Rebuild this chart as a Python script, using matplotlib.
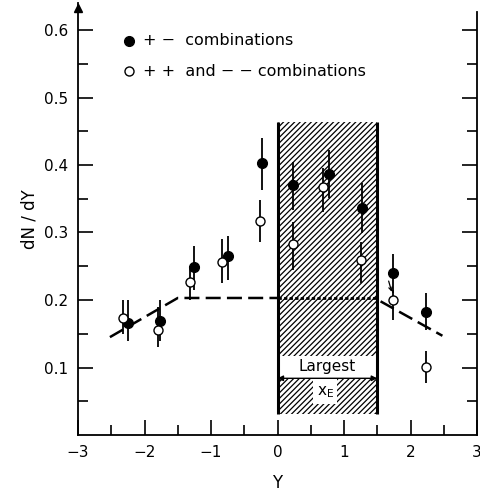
import numpy as np
import matplotlib
matplotlib.use("Agg")
import matplotlib.pyplot as plt
from matplotlib.patches import Rectangle

plt.rcParams['font.family'] = ['DejaVu Sans']
plt.rcParams['hatch.linewidth'] = 0.9

# filled points: +- combinations
y_full = [-2.25, -1.76, -1.25, -0.75, -0.24, 0.24, 0.77, 1.27, 1.74, 2.24]
n_full = [0.166, 0.169, 0.249, 0.265, 0.403, 0.370, 0.386, 0.336, 0.240, 0.182]
lo_full = [0.140, 0.140, 0.215, 0.230, 0.363, 0.333, 0.351, 0.299, 0.210, 0.155]
hi_full = [0.200, 0.200, 0.280, 0.295, 0.440, 0.404, 0.422, 0.373, 0.268, 0.210]

# open points: ++ and -- combinations
y_open = [-2.32, -1.80, -1.31, -0.83, -0.26, 0.23, 0.69, 1.25, 1.73, 2.24]
n_open = [0.173, 0.155, 0.227, 0.256, 0.317, 0.283, 0.368, 0.259, 0.200, 0.101]
lo_open = [0.150, 0.130, 0.200, 0.225, 0.286, 0.244, 0.330, 0.225, 0.170, 0.077]
hi_open = [0.200, 0.190, 0.250, 0.290, 0.348, 0.316, 0.395, 0.286, 0.215, 0.124]

# dashed curve
curve_left_x = [-2.52, -1.5, 0.0]
curve_left_y = [0.145, 0.203, 0.203]
curve_mid_x = [0.0, 1.5]
curve_mid_y = [0.203, 0.203]
curve_right_x = [1.55, 2.48]
curve_right_y = [0.198, 0.147]

# largest x_E band
band_x = [0.0, 1.5]
band_y = [0.031, 0.464]

fig = plt.figure(figsize=(4.81, 4.93), dpi=100)
ax = fig.add_axes([78/481, 58/493, 399/481, 432/493])
ax.set_xlim(-3, 3)
ax.set_ylim(0, 0.64)

# hatched region
ax.add_patch(Rectangle((band_x[0], band_y[0]), band_x[1]-band_x[0], band_y[1]-band_y[0],
                       facecolor='white', edgecolor='black', hatch='//////', lw=0, zorder=1))
ax.add_patch(Rectangle((0, 0.084), 1.5, 0.033, facecolor='white', lw=0, zorder=1.5))
ax.add_patch(Rectangle((0.54, 0.046), 0.35, 0.038, facecolor='white', lw=0, zorder=1.5))
for bx in band_x:
    ax.plot([bx, bx], band_y, color='black', lw=2.2, zorder=2, solid_capstyle='butt')
ax.annotate('', xy=(0, 0.084), xytext=(1.5, 0.084),
            arrowprops=dict(arrowstyle='<|-|>', color='black', lw=1.0,
                            mutation_scale=8, shrinkA=0, shrinkB=0), zorder=3)
ax.text(0.75, 0.101, 'Largest', ha='center', va='center', fontsize=11, zorder=3)
ax.text(0.72, 0.064, r'$\mathsf{x_E}$', ha='center', va='center', fontsize=11, zorder=3)

# curve
ax.plot(curve_left_x, curve_left_y, color='black', lw=1.8, dashes=(6, 2.5), zorder=2)
ax.plot(curve_mid_x, curve_mid_y, color='black', lw=2.0, dashes=(1.2, 0.8), zorder=2)
ax.plot(curve_right_x, curve_right_y, color='black', lw=1.8, dashes=(6, 2.5), zorder=2)

# data
yf = np.array(n_full)
ax.errorbar(y_full, yf, yerr=[yf - np.array(lo_full), np.array(hi_full) - yf],
            fmt='o', color='black', ms=7, elinewidth=1.3, capsize=0, zorder=4)
yo = np.array(n_open)
ax.errorbar(y_open, yo, yerr=[yo - np.array(lo_open), np.array(hi_open) - yo],
            fmt='o', color='black', mfc='white', mec='black', mew=1.0, ms=6.5,
            elinewidth=1.3, capsize=0, zorder=4)
ax.annotate('', xy=(1.73, 0.208), xytext=(1.66, 0.232),
            arrowprops=dict(arrowstyle='->', color='black', lw=0.9, mutation_scale=6))

# legend
ax.plot([-2.23], [0.584], 'o', color='black', ms=7)
ax.plot([-2.23], [0.539], 'o', color='black', mfc='white', ms=6.5, mew=1.0)
ax.text(-2.03, 0.584, '+ \u2212  combinations', va='center', ha='left', fontsize=11.5)
ax.text(-2.03, 0.539, '+ +  and \u2212 \u2212 combinations', va='center', ha='left', fontsize=11.5)

# axes styling
ax.spines['top'].set_visible(False)
ax.spines['right'].set_bounds(0, 0.627)
for s in ['left', 'bottom', 'right']:
    ax.spines[s].set_linewidth(1.3)
ax.plot([-3], [0.632], marker='^', color='black', ms=6, clip_on=False)

ax.set_xticks(np.arange(-3, 3.01, 1))
ax.set_xticks(np.arange(-2.5, 3, 1), minor=True)
ax.set_xticklabels(['\u22123', '\u22122', '\u22121', '0', '1', '2', '3'])
ax.set_yticks(np.arange(0.1, 0.61, 0.1))
ax.set_yticks(np.arange(0.05, 0.61, 0.1), minor=True)
ax.set_yticklabels(['0.1', '0.2', '0.3', '0.4', '0.5', '0.6'])
ax.tick_params(which='both', direction='in', right=True, top=False, width=1.2, labelsize=11)
ax.tick_params(which='major', length=11, pad=7)
ax.tick_params(which='minor', length=7)

ax.set_xlabel('Y', fontsize=12)
ax.set_ylabel('dN / dY', fontsize=12)
ax.xaxis.set_label_coords(0.5, -0.09)
ax.yaxis.set_label_coords(-0.10, 0.5)

fig.savefig('out.png', dpi=100)
